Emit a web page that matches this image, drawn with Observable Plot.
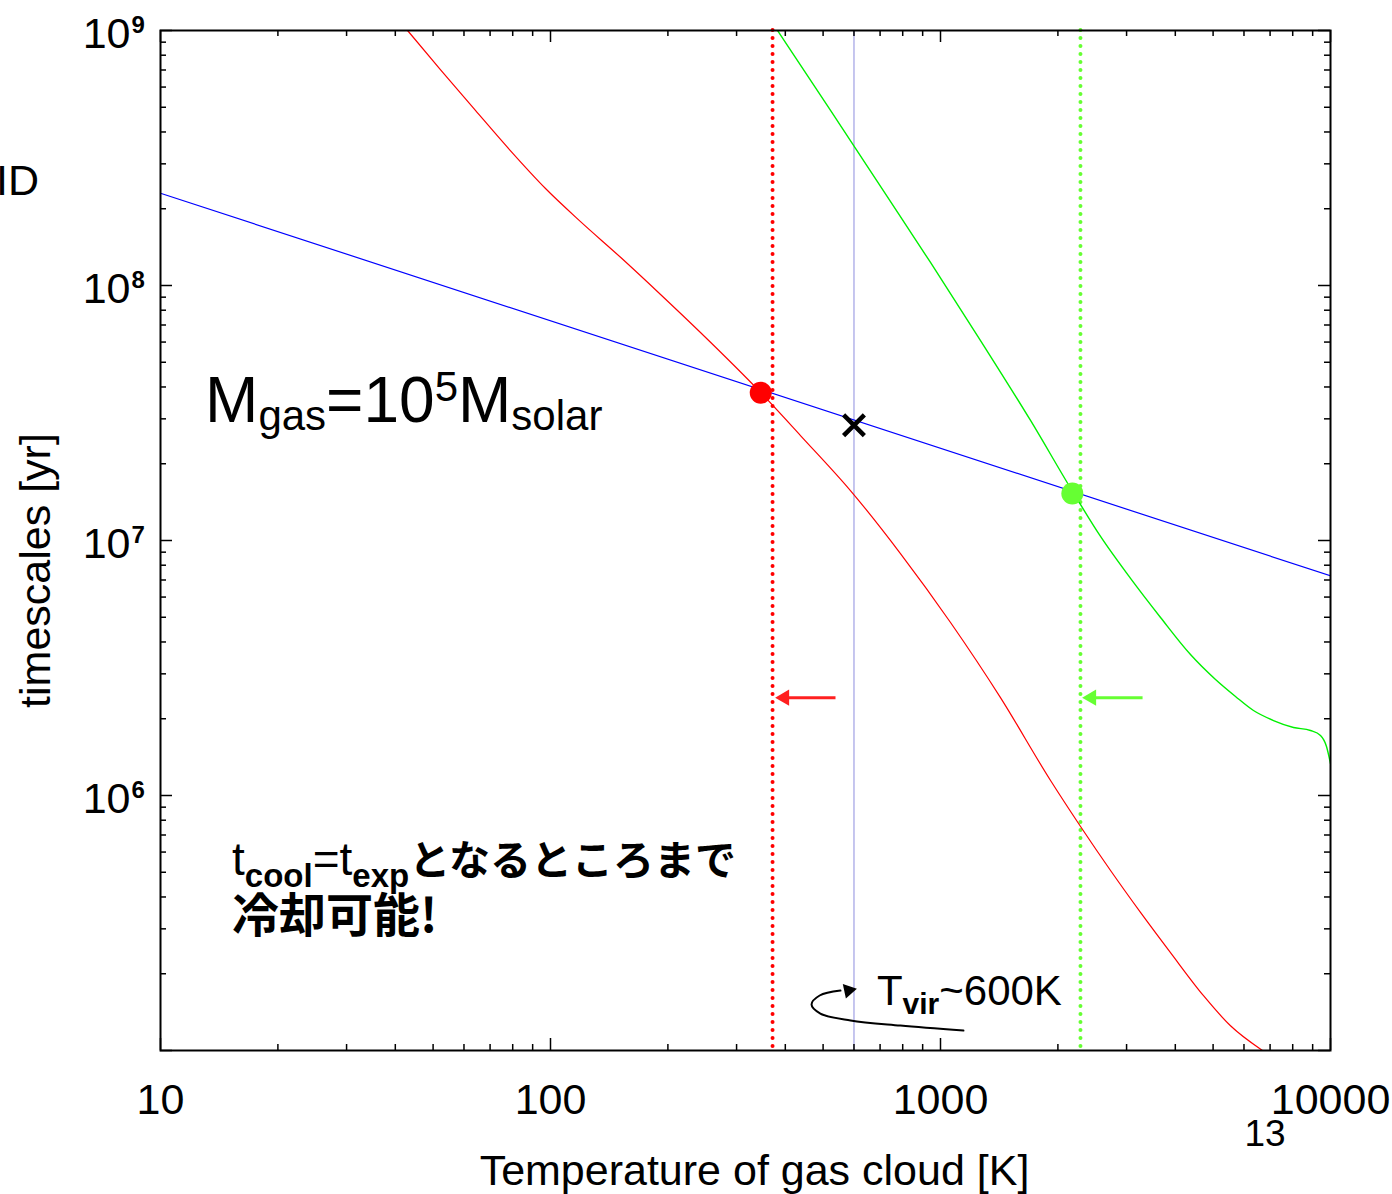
<!DOCTYPE html>
<html><head><meta charset="utf-8">
<script src="https://cdn.jsdelivr.net/npm/d3@7"></script>
<script src="https://cdn.jsdelivr.net/npm/@observablehq/plot@0.6"></script>
<style>
html,body{margin:0;padding:0;background:#fff;overflow:hidden}
</style></head><body><div id="chart"></div>
<script>
const FONT = '"Liberation Sans", Arial, "Noto Sans CJK JP", sans-serif';
const JFONT = '"Noto Sans CJK JP", "Liberation Sans", sans-serif';

// ---- data (temperature T [K], timescale t [yr]) ----
const blueT = [10, 10000];
const blueTime = [2.30e8, 7.27e6];

const redT    = [43.0, 52.2, 64.2, 78.9, 97.1, 119.4, 151.2, 191.5, 242.4, 345.5, 437.5, 587.6, 789.5, 1061, 1425, 1915, 2286, 2729, 3257, 3888, 4725, 5541, 6692];
const redTime = [1e9, 7.03e8, 4.86e8, 3.38e8, 2.40e8, 1.78e8, 1.29e8, 9.22e7, 6.54e7, 3.81e7, 2.58e7, 1.57e7, 8.89e6, 4.77e6, 2.42e6, 1.145e6, 7.56e5, 5.08e5, 3.48e5, 2.42e5, 1.64e5, 1.25e5, 1e5];

const greenT    = [382.0, 522.4, 701.8, 942.7, 1266.6, 1701.7, 2180.6, 2572.4, 3070.9, 3665.8, 4375.2, 5071.8, 5707.2, 6346.5, 7142, 8037, 8886, 9427, 9766, 10000];
const greenTime = [1e9, 4.86e8, 2.445e8, 1.231e8, 6.085e7, 2.956e7, 1.557e7, 1.037e7, 7.10e6, 4.99e6, 3.57e6, 2.85e6, 2.445e6, 2.154e6, 1.968e6, 1.848e6, 1.798e6, 1.719e6, 1.557e6, 1.335e6];

const vlineT = [600];            // T_vir
const redLimitT = [371];         // red dotted line
const greenLimitT = [2285];      // green dotted line

const dotT = [346, 2178];
const dotTime = [3.8e7, 1.53e7];
const dotColor = ["#ff0000", "#66ff33"];

const crossT = [600];
const crossTime = [2.83e7];

// horizontal arrows: tail T, line end T, head-centre T, timescale
const arrowTailT = [538, 3297];
const arrowEndT = [392, 2438];
const arrowHeadT = [398, 2438];
const arrowTime = [2.42e6, 2.42e6];
const arrowColor = ["#ff2020", "#66ff33"];

// curved arrow near T_vir label
const curveT = [1145, 789, 588, 492, 467, 490, 554];
const curveTime = [1.197e5, 1.253e5, 1.312e5, 1.396e5, 1.514e5, 1.643e5, 1.718e5];
const curveHeadT = [581];
const curveHeadTime = [1.72e5];

// tick values
const xMajor = [10, 100, 1000, 10000];
const yMajor = [1e5, 1e6, 1e7, 1e8, 1e9];
const yLabelTicks = [1e6, 1e7, 1e8, 1e9];
const xMinor = [], yMinor = [];
for (const d of [10, 100, 1000]) for (let k = 2; k <= 9; k++) xMinor.push(k * d);
for (const d of [1e5, 1e6, 1e7, 1e8]) for (let k = 2; k <= 9; k++) yMinor.push(k * d);

// annotation anchors
const massLabel = {T: 13.05, t: 2.90e7};
const coolLabel1 = {T: 15.3, t: 4.85e5};
const coolLabel2 = {T: 15.3, t: 2.90e5};
const virLabel = {T: 689, t: 1.50e5};

// ---- layout ----
const W = 1392, H = 1194, mL = 160, mR = 62, mT = 30, mB = 144;
const iw = W - mL - mR, ih = H - mT - mB;

const zip = (a, b) => a.map((T, i) => ({T, t: b[i]}));
const blue = zip(blueT, blueTime);
const red = zip(redT, redTime);
const green = zip(greenT, greenTime);
const dots = dotT.map((T, i) => ({T, t: dotTime[i], c: dotColor[i]}));
const arrows = arrowTailT.map((T, i) => ({T1: T, T2: arrowEndT[i], Th: arrowHeadT[i], t: arrowTime[i], c: arrowColor[i]}));

const plot = Plot.plot({
  width: W, height: H,
  marginLeft: mL, marginRight: mR, marginTop: mT, marginBottom: mB,
  x: {type: "log", domain: [10, 10000], axis: null},
  y: {type: "log", domain: [1e5, 1e9], axis: null},
  style: {fontFamily: FONT, fontSize: "43px", background: "white", color: "black"},
  marks: [
    Plot.ruleX(vlineT, {x: d => d, stroke: "#a8a8e6", strokeWidth: 1.3}),
    Plot.ruleX(redLimitT, {x: d => d, stroke: "#ff0000", strokeWidth: 4, strokeDasharray: "0 8", strokeLinecap: "round"}),
    Plot.ruleX(greenLimitT, {x: d => d, stroke: "#66ff33", strokeWidth: 4, strokeDasharray: "0 8", strokeLinecap: "round"}),
    Plot.line(blue, {x: "T", y: "t", stroke: "#0000ff", strokeWidth: 1.2, clip: true}),
    Plot.line(red, {x: "T", y: "t", stroke: "#ff0000", strokeWidth: 1.2, curve: "monotone-x", clip: true}),
    Plot.line(green, {x: "T", y: "t", stroke: "#00f000", strokeWidth: 1.4, curve: "monotone-x", clip: true}),
    Plot.link(arrows, {x1: "T1", x2: "T2", y1: "t", y2: "t", stroke: "c", strokeWidth: 3}),
    Plot.dot(arrows, {x: "Th", y: "t", fill: "c", symbol: "triangle", r: 6, rotate: -90}),
    Plot.line(zip(curveT, curveTime), {x: "T", y: "t", stroke: "black", strokeWidth: 2, curve: "catmull-rom"}),
    Plot.dot(zip(curveHeadT, curveHeadTime), {x: "T", y: "t", fill: "black", symbol: "triangle", r: 5.5, rotate: 78}),
    Plot.dot(dots, {x: "T", y: "t", fill: "c", r: 11}),
    Plot.dot(zip(crossT, crossTime), {x: "T", y: "t", symbol: "times", r: 9.5, stroke: "black", strokeWidth: 4.5}),
    // inward ticks on all four sides
    Plot.tickX(xMajor, {x: d => d, insetTop: ih - 12, stroke: "black", strokeWidth: 1.5}),
    Plot.tickX(xMinor, {x: d => d, insetTop: ih - 6, stroke: "black", strokeWidth: 1.5}),
    Plot.tickX(xMajor, {x: d => d, insetBottom: ih - 12, stroke: "black", strokeWidth: 1.5}),
    Plot.tickX(xMinor, {x: d => d, insetBottom: ih - 6, stroke: "black", strokeWidth: 1.5}),
    Plot.tickY(yMajor, {y: d => d, insetRight: iw - 12, stroke: "black", strokeWidth: 1.5}),
    Plot.tickY(yMinor, {y: d => d, insetRight: iw - 6, stroke: "black", strokeWidth: 1.5}),
    Plot.tickY(yMajor, {y: d => d, insetLeft: iw - 12, stroke: "black", strokeWidth: 1.5}),
    Plot.tickY(yMinor, {y: d => d, insetLeft: iw - 6, stroke: "black", strokeWidth: 1.5}),
    Plot.frame({stroke: "black", strokeWidth: 2}),
    // tick labels
    Plot.text(xMajor, {x: d => d, frameAnchor: "bottom", dy: 63, textAnchor: "middle", text: d => String(d), fontSize: 43, fill: "black"}),
    Plot.text(yLabelTicks, {y: d => d, frameAnchor: "left", dx: -30, dy: 4, textAnchor: "end", text: () => "10", fontSize: 43, fill: "black"}),
    Plot.text(yLabelTicks, {y: d => d, frameAnchor: "left", dx: -29, dy: -5, textAnchor: "start", text: d => String(Math.round(Math.log10(d))), fontSize: 24, fontWeight: "bold", fill: "black"}),
    // axis labels
    Plot.text(["Temperature of gas cloud [K]"], {frameAnchor: "bottom", dx: 9, dy: 134, textAnchor: "middle", fontSize: 43, fill: "black"}),
    Plot.text(["timescales [yr]"], {frameAnchor: "left", dx: -124, dy: 30, rotate: -90, textAnchor: "middle", fontSize: 43, fill: "black"})
  ]
});

document.getElementById("chart").appendChild(plot);

// rich-text annotations placed with the plot's own scales
const sx = plot.scale("x"), sy = plot.scale("y");
const svg = d3.select(plot);
function rich(anchor, parts) {
  const txt = svg.append("text")
    .attr("x", sx.apply(anchor.T))
    .attr("y", sy.apply(anchor.t))
    .attr("text-anchor", "start")
    .attr("fill", "black")
    .style("font-family", FONT);
  for (const p of parts) {
    const ts = txt.append("tspan").text(p.text).attr("font-size", p.size);
    if (p.dy) ts.attr("dy", p.dy);
    if (p.weight) ts.attr("font-weight", p.weight);
    if (p.family) ts.style("font-family", p.family);
  }
  return txt;
}
rich(massLabel, [
  {text: "M", size: 64},
  {text: "gas", size: 42, dy: 8},
  {text: "=10", size: 64, dy: -8},
  {text: "5", size: 42, dy: -21},
  {text: "M", size: 64, dy: 21},
  {text: "solar", size: 42, dy: 8}
]);
rich(coolLabel1, [
  {text: "t", size: 46},
  {text: "cool", size: 33, dy: 12, weight: "bold"},
  {text: "=t", size: 46, dy: -12},
  {text: "exp", size: 33, dy: 12, weight: "bold"},
  {text: "となるところまで", size: 41, dy: -12, weight: "bold", family: JFONT}
]);
rich(coolLabel2, [
  {text: "冷却可能!", size: 47, weight: "bold", family: JFONT}
]);
rich(virLabel, [
  {text: "T", size: 42},
  {text: "vir", size: 30, dy: 9, weight: "bold"},
  {text: "~600K", size: 42, dy: -9}
]);
// stray page texts from the original figure
svg.append("text").attr("x", -4).attr("y", 195).attr("font-size", 43).attr("text-anchor", "start").attr("fill", "black").text("ID");
svg.append("text").attr("x", 1265).attr("y", 1146).attr("font-size", 37).attr("text-anchor", "middle").attr("fill", "black").text("13");
</script></body></html>
